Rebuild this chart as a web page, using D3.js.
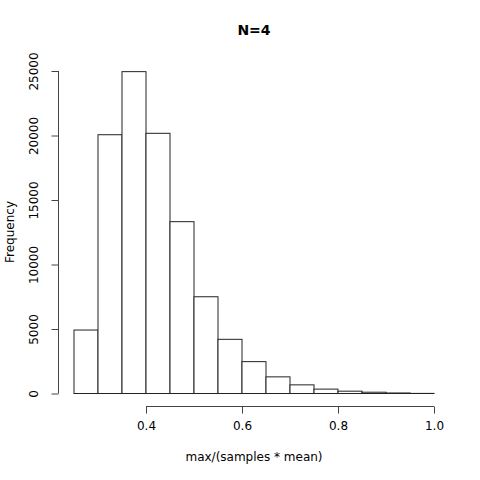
<!DOCTYPE html>
<html><head><meta charset="utf-8">
<script src="https://cdn.jsdelivr.net/npm/d3@7"></script>
<style>body{margin:0;background:#fff}svg{display:block}text{font-family:"DejaVu Sans",sans-serif;fill:#000}</style>
</head><body><svg id="c" width="480" height="480"></svg>
<script>
const binStarts = [0.25,0.30,0.35,0.40,0.45,0.50,0.55,0.60,0.65,0.70,0.75,0.80,0.85,0.90,0.95];
const binWidth = 0.05;
const counts = [4920,20060,24950,20170,13320,7500,4200,2470,1290,670,340,180,100,40,8];
const xTicks = [0.4,0.6,0.8,1.0];
const yTicks = [0,5000,10000,15000,20000,25000];
const title = "N=4";
const xLabel = "max/(samples * mean)";
const yLabel = "Frequency";

const svg = d3.select("#c");
const x = d3.scaleLinear().domain([0.22,1.03]).range([59.6,448.4]);
const y = d3.scaleLinear().domain([0,25000]).range([393.5,71]);

svg.append("g").selectAll("rect").data(binStarts).join("rect")
  .attr("x",(d)=>x(d)).attr("width",(d)=>x(d+binWidth)-x(d))
  .attr("y",(d,i)=>y(counts[i])).attr("height",(d,i)=>y(0)-y(counts[i]))
  .attr("fill","#fff").attr("stroke","#222").attr("stroke-width",1);

const xa = svg.append("g").attr("transform","translate(0,406.5)")
  .call(d3.axisBottom(x).tickValues(xTicks).tickFormat(d3.format(".1f")).tickSize(7).tickSizeOuter(0));
xa.select(".domain").attr("d",`M${x(0.4)},0H${x(1.0)}`).attr("stroke","#444");
xa.selectAll(".tick line").attr("stroke","#444");
xa.selectAll("text").attr("font-size",12).attr("dy","1.1em").style("font-family","DejaVu Sans");

const ya = svg.append("g").attr("transform","translate(58.5,0)")
  .call(d3.axisLeft(y).tickValues(yTicks).tickFormat(d3.format("d")).tickSize(7).tickSizeOuter(0));
ya.select(".domain").attr("d",`M0,${y(0)}V${y(25000)}`).attr("stroke","#444");
ya.selectAll(".tick line").attr("stroke","#444");
ya.selectAll(".tick text").attr("font-size",12).attr("x",null).attr("dy",null)
  .attr("text-anchor","middle").attr("transform","translate(-21,0) rotate(-90)")
  .style("font-family","DejaVu Sans");

svg.append("text").attr("x",254).attr("y",35).attr("text-anchor","middle")
  .attr("font-size",14).attr("font-weight","bold").text(title);
svg.append("text").attr("x",254).attr("y",461).attr("text-anchor","middle")
  .attr("font-size",12).text(xLabel);
svg.append("text").attr("transform","translate(14,232) rotate(-90)").attr("text-anchor","middle")
  .attr("font-size",12).text(yLabel);
</script></body></html>
